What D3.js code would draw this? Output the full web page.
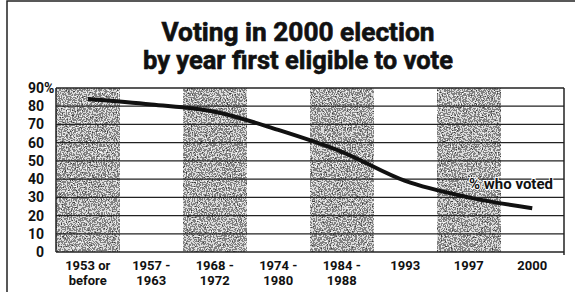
<!DOCTYPE html>
<html>
<head>
<meta charset="utf-8">
<script src="https://cdn.jsdelivr.net/npm/d3@7"></script>
<style>
  body { margin: 0; background: #fff; }
  text { font-family: Roboto, "Liberation Sans", sans-serif; font-weight: bold; fill: #111; }
</style>
</head>
<body>
<svg id="chart" width="575" height="292"></svg>
<script>
// Données
const categories = ['1953 or|before', '1957 -|1963', '1968 -|1972', '1974 -|1980', '1984 -|1988', '1993', '1997', '2000']
const voted = [84, 81, 77, 67, 55, 39, 30, 24]
const yTicks = [0, 10, 20, 30, 40, 50, 60, 70, 80, 90]
const titleLines = ['Voting in 2000 election', 'by year first eligible to vote']
const seriesLabel = '% who voted'

// Zone du graphique
const plotLeft = 56
const plotRight = 564
const plotTop = 88
const plotBottom = 252
const titleWidths = [273, 310] //largeur visée des lignes de titre

const svg = d3.select('#chart')

// Texture pointillée pour les bandes
const defs = svg.append('defs')
const filter = defs.append('filter').attr('id', 'speckle')
  .attr('x', 0).attr('y', 0).attr('width', '100%').attr('height', '100%')
filter.append('feTurbulence')
  .attr('type', 'fractalNoise').attr('baseFrequency', 0.8).attr('numOctaves', 2).attr('seed', 5)
filter.append('feColorMatrix').attr('type', 'saturate').attr('values', 0)
filter.append('feComponentTransfer').call(ct => {
  ['feFuncR', 'feFuncG', 'feFuncB'].forEach(f => ct.append(f).attr('type', 'discrete').attr('tableValues', '0 0.05 0.22 0.7 1 1'))
  ct.append('feFuncA').attr('type', 'table').attr('tableValues', '1 1')
})

// Cadre de la page
svg.append('rect').attr('x', 7).attr('y', 1).attr('width', 580).attr('height', 300)
  .attr('fill', 'none').attr('stroke', '#222').attr('stroke-width', 1.5)

// Titre
svg.selectAll('text.titre').data(titleLines).enter()
  .append('text').attr('class', 'titre')
  .attr('x', 298).attr('y', (d, i) => 41 + i * 28)
  .attr('text-anchor', 'middle').attr('font-size', 25)
  .attr('stroke', '#111').attr('stroke-width', 0.6)
  .attr('textLength', (d, i) => titleWidths[i]).attr('lengthAdjust', 'spacingAndGlyphs')
  .text(d => d)

// Échelles
const x = d3.scaleBand().domain(categories).range([plotLeft, plotRight]).padding(0)
const y = d3.scaleLinear().domain([0, 90]).range([plotBottom, plotTop])

// Bandes grisées (une sur deux)
svg.selectAll('rect.band').data(categories.filter((d, i) => i % 2 === 0)).enter()
  .append('rect').attr('class', 'band')
  .attr('x', d => x(d)).attr('y', plotTop)
  .attr('width', x.bandwidth()).attr('height', plotBottom - plotTop)
  .attr('filter', 'url(#speckle)')

// Lignes de grille
svg.selectAll('line.grid').data(yTicks).enter()
  .append('line').attr('class', 'grid')
  .attr('x1', plotLeft).attr('x2', plotRight)
  .attr('y1', d => y(d)).attr('y2', d => y(d))
  .attr('stroke', '#222').attr('stroke-width', 1.3)

// Bordures gauche et droite
svg.append('line').attr('x1', plotLeft).attr('x2', plotLeft).attr('y1', plotTop).attr('y2', plotBottom)
  .attr('stroke', '#222').attr('stroke-width', 1.5)
svg.append('line').attr('x1', plotRight).attr('x2', plotRight).attr('y1', plotTop).attr('y2', plotBottom + 3)
  .attr('stroke', '#222').attr('stroke-width', 1.5)

// Axe Y
svg.selectAll('text.ytick').data(yTicks).enter()
  .append('text').attr('class', 'ytick')
  .attr('x', 44).attr('y', d => y(d) + 5)
  .attr('text-anchor', 'end').attr('font-size', 14)
  .text(d => d)
svg.append('text').attr('x', 44).attr('y', y(90) + 5).attr('font-size', 14).text('%')

// Axe X (deux lignes)
const xLabels = svg.selectAll('text.xtick').data(categories).enter()
  .append('text').attr('class', 'xtick')
  .attr('text-anchor', 'middle').attr('font-size', 13)
xLabels.each(function (d) {
  const parts = d.split('|')
  const cx = x(d) + x.bandwidth() / 2
  parts.forEach((p, i) => {
    d3.select(this).append('tspan').attr('x', cx).attr('y', 270 + i * 15).text(p)
  })
})

// Courbe
const line = d3.line()
  .x((d, i) => x(categories[i]) + x.bandwidth() / 2)
  .y(d => y(d))
  .curve(d3.curveMonotoneX)
svg.append('path').datum(voted)
  .attr('d', line)
  .attr('fill', 'none').attr('stroke', '#111').attr('stroke-width', 4)

// Étiquette de la série
svg.append('text')
  .attr('x', 511).attr('y', 189)
  .attr('text-anchor', 'middle').attr('font-size', 15)
  .style('paint-order', 'stroke').attr('stroke', '#fff').attr('stroke-width', 2)
  .text(seriesLabel)
</script>
</body>
</html>
